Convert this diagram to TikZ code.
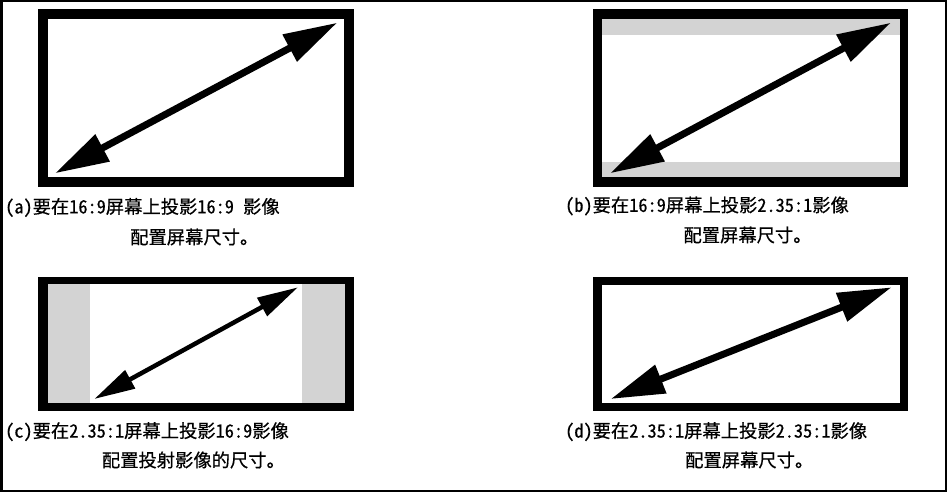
\documentclass[tikz,border=0pt]{standalone}
\usepackage{fontspec}
\usetikzlibrary{arrows.meta}
\newfontfamily\capfont[CharacterWidth=Half, BoldFont={Noto Sans CJK SC}, BoldFeatures={FakeBold=0.5}]{Noto Sans CJK SC}
\definecolor{barcolor}{RGB}{211, 211, 211}
\tikzstyle{screen} = [fill=black]
\tikzstyle{picarea} = [fill=white]
\tikzstyle{bar} = [fill=barcolor]
\tikzstyle{bigarrow} = [line width=7pt,
                        {Triangle[length=54pt,width=29pt]}-{Triangle[length=54pt,width=29pt]}]
\tikzstyle{smallarrow} = [line width=4.5pt,
                          {Triangle[length=41pt,width=20pt]}-{Triangle[length=41pt,width=20pt]}]
\tikzstyle{caption} = [anchor=west, inner sep=0pt, font=\capfont\bfseries\fontsize{18.3}{20}\selectfont]

\begin{document}
\begin{tikzpicture}[x=1pt, y=-1pt]
        \useasboundingbox (0,0) rectangle (947,492);
        \draw [line width=2.5pt] (1.25,1.25) rectangle (945.75,490.75);

        %Screen (a)
        \fill [screen] (38.3,9.3) rectangle (353.5,186.7);
        \fill [picarea] (47.7,19) rectangle (344.3,177.3);
        \coordinate (a1) at (55,173.3);
        \coordinate (a2) at (337.3,22.7);
        \draw [bigarrow] (a1) -- (a2);

        %Screen (b)
        \fill [screen] (593.3,9.3) rectangle (908.3,186.5);
        \fill [picarea] (602.3,19) rectangle (900,177.3);
        \fill [bar] (602.3,19) rectangle (900,35);
        \fill [bar] (602.3,161.7) rectangle (900,177.3);
        \coordinate (b1) at (610,173.3);
        \coordinate (b2) at (891,22.7);
        \draw [bigarrow] (b1) -- (b2);

        %Screen (c)
        \fill [screen] (38.3,276.7) rectangle (353.5,411);
        \fill [picarea] (47.5,284.3) rectangle (344.5,403.3);
        \fill [bar] (47.5,284.3) rectangle (90,403.3);
        \fill [bar] (301.5,284.3) rectangle (344.5,403.3);
        \coordinate (c1) at (94.3,399);
        \coordinate (c2) at (298,287.3);
        \draw [smallarrow] (c1) -- (c2);

        %Screen (d)
        \fill [screen] (593.3,277.3) rectangle (908.3,411);
        \fill [picarea] (602.3,285) rectangle (900,403.3);
        \coordinate (d1) at (610.7,399);
        \coordinate (d2) at (891.7,287.3);
        \draw [bigarrow] (d1) -- (d2);

        %Captions
        \node (capA) [caption] at (5,207.5) {(a)要在16:9屏幕上投影16:9 影像};
        \node (capA2) [caption] at (130,237) {配置屏幕尺寸。};
        \node (capB) [caption] at (565,206) {(b)要在16:9屏幕上投影2.35:1影像};
        \node (capB2) [caption] at (683.3,235) {配置屏幕尺寸。};
        \node (capC) [caption] at (5,431.7) {(c)要在2.35:1屏幕上投影16:9影像};
        \node (capC2) [caption] at (101.7,460) {配置投射影像的尺寸。};
        \node (capD) [caption] at (565,431.7) {(d)要在2.35:1屏幕上投影2.35:1影像};
        \node (capD2) [caption] at (685,460) {配置屏幕尺寸。};
    \end{tikzpicture}
\end{document}
